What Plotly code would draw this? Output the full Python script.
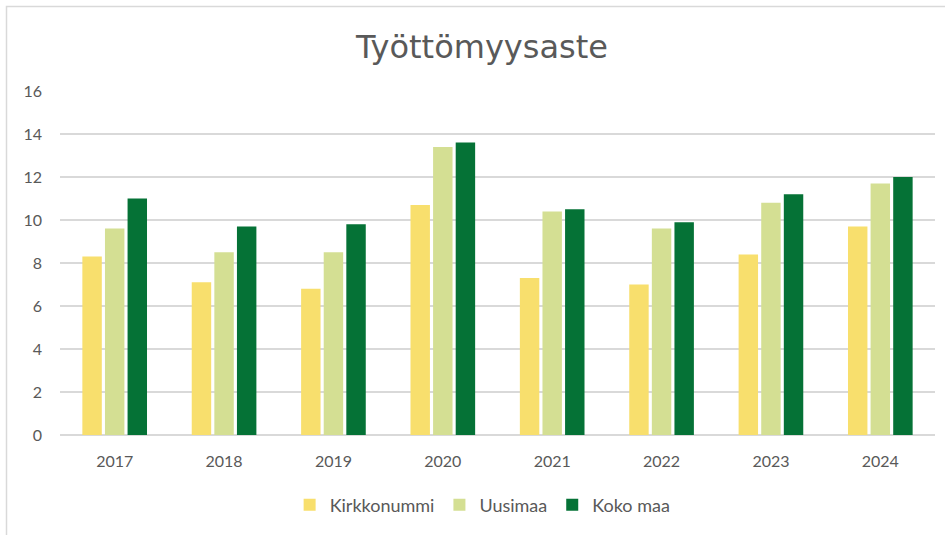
import plotly.graph_objects as go

years = ["2017", "2018", "2019", "2020", "2021", "2022", "2023", "2024"]
kirkkonummi = [8.3, 7.1, 6.8, 10.7, 7.3, 7.0, 8.4, 9.7]
uusimaa = [9.6, 8.5, 8.5, 13.4, 10.4, 9.6, 10.8, 11.7]
koko_maa = [11.0, 9.7, 9.8, 13.6, 10.5, 9.9, 11.2, 12.0]

series_names = ["Kirkkonummi", "Uusimaa", "Koko maa"]
series_colors = ["#F8DF6D", "#D4DF93", "#057236"]
y_ticks = [0, 2, 4, 6, 8, 10, 12, 14, 16]

W, H = 945, 535
L, R, T, B = 60, 10, 91, 100
pw, ph = W - L - R, H - T - B

def px(x):
    return (x - L) / pw

def py(y):
    return (H - B - y) / ph

fig = go.Figure()
for name, vals, col in zip(series_names, [kirkkonummi, uusimaa, koko_maa], series_colors):
    fig.add_trace(go.Bar(x=years, y=vals, name=name, marker=dict(color=col, line=dict(width=0))))

font_fam = "Lato, Open Sans, sans-serif"
fig.update_layout(
    width=W, height=H,
    margin=dict(l=L, r=R, t=T, b=B),
    paper_bgcolor="white", plot_bgcolor="white",
    barmode="group", bargap=0.38, bargroupgap=0.14,
    title=dict(text="Työttömyysaste", x=0.51, xanchor="center", y=(H - 47) / H, yanchor="middle",
               font=dict(family="DejaVu Sans, sans-serif", size=32, color="#595959")),
    xaxis=dict(showgrid=False, showline=False, ticks="", tickfont=dict(family=font_fam, size=16, color="#595959"),
               ticklabelstandoff=15, fixedrange=True),
    yaxis=dict(range=[0, 16], tickvals=y_ticks, showgrid=True, gridcolor="#D9D9D9", gridwidth=1.5,
               zeroline=True, zerolinecolor="#D9D9D9", zerolinewidth=1.5,
               tickfont=dict(family=font_fam, size=16, color="#595959"), ticklabelstandoff=17, fixedrange=True),
    legend=dict(orientation="h", x=0.483, xanchor="center", y=py(505), yanchor="middle",
                font=dict(family=font_fam, size=18, color="#595959"), traceorder="normal",
                itemwidth=30, tracegroupgap=0),
    showlegend=True,
)
fig.add_shape(type="rect", xref="paper", yref="paper",
              x0=px(6.5), y0=py(545), x1=px(955), y1=py(6.5),
              line=dict(color="#D9D9D9", width=1.5), fillcolor="rgba(0,0,0,0)", layer="below")

fig.write_html("out.html")
